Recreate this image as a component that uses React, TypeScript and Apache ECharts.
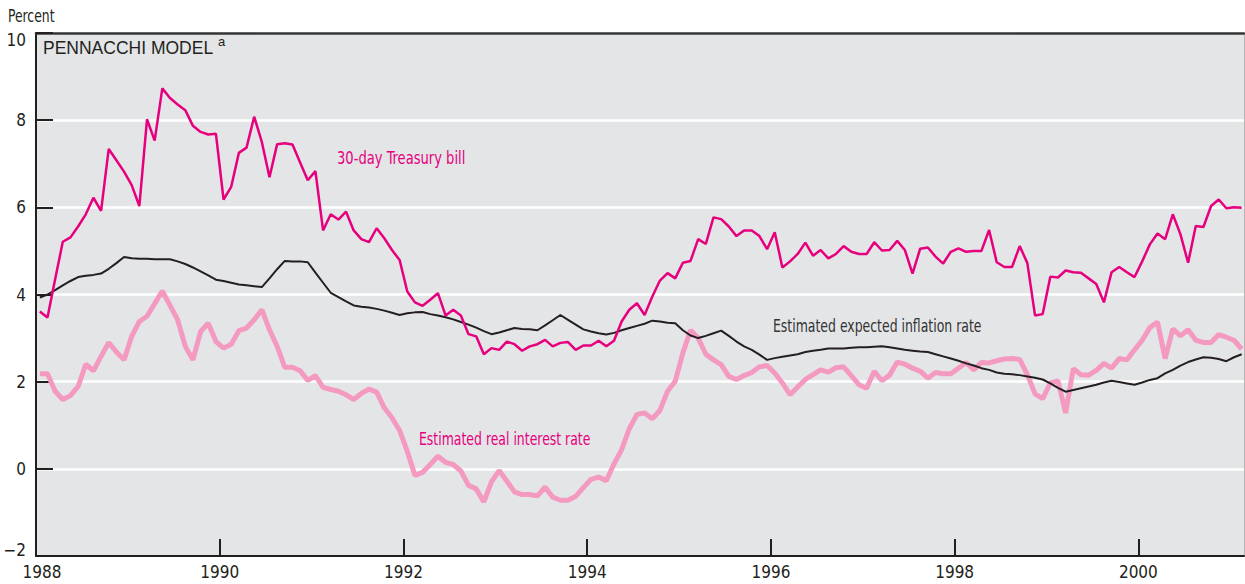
import React, { useEffect, useRef } from "react";
import * as echarts from "echarts";

// Monthly observations, Jan 1988 .. Feb 2001
const startYear = 1988;

const tbill = [
  3.61, 3.47, 4.35, 5.21, 5.31, 5.56, 5.84, 6.22, 5.92, 7.34,
  7.08, 6.82, 6.51, 6.03, 8.02, 7.53, 8.73, 8.51, 8.36, 8.23,
  7.87, 7.73, 7.67, 7.69, 6.18, 6.47, 7.25, 7.37, 8.08, 7.5,
  6.69, 7.45, 7.47, 7.44, 7.03, 6.62, 6.83, 5.47, 5.84, 5.72,
  5.9, 5.47, 5.27, 5.2, 5.52, 5.29, 5.02, 4.79, 4.07, 3.82,
  3.74, 3.88, 4.03, 3.52, 3.65, 3.52, 3.09, 3.04, 2.63, 2.77,
  2.73, 2.92, 2.86, 2.71, 2.81, 2.86, 2.96, 2.81, 2.89, 2.91,
  2.73, 2.83, 2.83, 2.94, 2.81, 2.94, 3.38, 3.65, 3.8, 3.53,
  3.95, 4.32, 4.49, 4.37, 4.73, 4.77, 5.27, 5.16, 5.77, 5.73,
  5.56, 5.34, 5.47, 5.47, 5.34, 5.04, 5.43, 4.62, 4.76, 4.93,
  5.19, 4.89, 5.02, 4.83, 4.93, 5.11, 4.98, 4.93, 4.93, 5.2,
  5.01, 5.02, 5.23, 5.02, 4.48, 5.05, 5.08, 4.87, 4.71, 4.98,
  5.06, 4.98, 5.0, 5.0, 5.48, 4.74, 4.63, 4.63, 5.11, 4.72,
  3.52, 3.55, 4.41, 4.39, 4.55, 4.51, 4.5, 4.37, 4.24, 3.82,
  4.51, 4.63, 4.51, 4.4, 4.76, 5.15, 5.4, 5.27, 5.84, 5.38,
  4.73, 5.57, 5.55, 6.03, 6.18, 5.98, 6.0, 5.99,
];

const inflation = [
  3.93, 4.0, 4.1, 4.21, 4.31, 4.4, 4.43, 4.45, 4.48, 4.59,
  4.72, 4.86, 4.83, 4.82, 4.82, 4.81, 4.81, 4.81, 4.76, 4.7,
  4.62, 4.53, 4.44, 4.34, 4.31, 4.27, 4.23, 4.21, 4.19, 4.17,
  4.37, 4.58, 4.77, 4.76, 4.76, 4.74, 4.5, 4.27, 4.04, 3.94,
  3.84, 3.75, 3.72, 3.7, 3.67, 3.63, 3.58, 3.53, 3.57, 3.59,
  3.6, 3.55, 3.52, 3.48, 3.43, 3.37, 3.31, 3.24, 3.16, 3.09,
  3.13, 3.18, 3.23, 3.21, 3.2, 3.18, 3.29, 3.41, 3.53, 3.42,
  3.31, 3.2, 3.15, 3.11, 3.08, 3.12, 3.18, 3.23, 3.28, 3.33,
  3.4, 3.38, 3.35, 3.34, 3.18, 3.06, 3.0, 3.05, 3.11, 3.17,
  3.05, 2.92, 2.81, 2.73, 2.62, 2.5, 2.54, 2.57, 2.6, 2.63,
  2.68, 2.71, 2.73, 2.76, 2.76, 2.76, 2.78, 2.79, 2.79, 2.8,
  2.81, 2.79, 2.76, 2.73, 2.71, 2.69, 2.68, 2.63, 2.58, 2.53,
  2.48, 2.42, 2.37, 2.31, 2.27, 2.21, 2.18, 2.17, 2.15, 2.12,
  2.09, 2.05, 1.96, 1.86, 1.77, 1.81, 1.85, 1.89, 1.93, 1.98,
  2.02, 1.99, 1.96, 1.93, 1.98, 2.04, 2.08, 2.19, 2.27, 2.37,
  2.45, 2.51, 2.56, 2.55, 2.52, 2.47, 2.56, 2.63,
];

const realRate = [
  2.18, 2.18, 1.78, 1.59, 1.68, 1.89, 2.4, 2.25, 2.58, 2.9,
  2.68, 2.5, 3.04, 3.38, 3.5, 3.79, 4.08, 3.75, 3.42, 2.81,
  2.5, 3.15, 3.34, 2.92, 2.77, 2.86, 3.17, 3.23, 3.42, 3.65,
  3.19, 2.81, 2.33, 2.33, 2.25, 2.03, 2.14, 1.87, 1.82, 1.78,
  1.7, 1.59, 1.73, 1.83, 1.76, 1.4, 1.17, 0.88, 0.4, -0.15,
  -0.08, 0.1, 0.29, 0.15, 0.1, -0.05, -0.38, -0.46, -0.76, -0.3,
  -0.04, -0.28, -0.53, -0.59, -0.59, -0.62, -0.42, -0.65, -0.72, -0.72,
  -0.63, -0.43, -0.24, -0.19, -0.27, 0.11, 0.44, 0.92, 1.25, 1.28,
  1.15, 1.34, 1.78, 2.01, 2.66, 3.18, 3.0, 2.63, 2.5, 2.39,
  2.12, 2.05, 2.14, 2.21, 2.34, 2.37, 2.2, 1.97, 1.7, 1.88,
  2.05, 2.16, 2.27, 2.22, 2.32, 2.34, 2.14, 1.93, 1.85, 2.24,
  2.02, 2.15, 2.45, 2.4, 2.31, 2.24, 2.08, 2.21, 2.18, 2.18,
  2.31, 2.44, 2.27, 2.44, 2.43, 2.48, 2.52, 2.53, 2.51, 2.16,
  1.72, 1.61, 1.97, 2.02, 1.28, 2.3, 2.16, 2.15, 2.26, 2.42,
  2.31, 2.53, 2.5, 2.73, 2.95, 3.24, 3.37, 2.53, 3.21, 3.05,
  3.19, 2.95, 2.9, 2.9, 3.08, 3.02, 2.95, 2.75,
];

const yearTicks = [1988, 1990, 1992, 1994, 1996, 1998, 2000];
const xMin = 1988;
const xMax = 2001.15;
const yMin = -2;
const yMax = 10;
const yStep = 2;

const NARROW = "'Liberation Sans Narrow', 'Arial Narrow', 'DejaVu Sans Condensed', 'Roboto Condensed', sans-serif";
const REGULAR = "'Liberation Sans', Arial, Helvetica, sans-serif";
const DARK = "#231f20";
const MAGENTA = "#e6007e";
const PINK = "#f49ac1";

const toPoints = (arr: number[]) =>
  arr.map((v, i) => [startYear + (i + 0.5) / 12, v]);

export default function App() {
  const ref = useRef<HTMLDivElement>(null);

  useEffect(() => {
    if (!ref.current) return;
    const chart = echarts.init(ref.current, null, { renderer: "svg" });
    const labelText = (
      text: string,
      x: number,
      y: number,
      fill: string,
      size: number,
      squeeze: number
    ) => ({
      type: "text",
      x,
      y,
      scaleX: squeeze,
      style: { text, fontSize: size, fontFamily: NARROW, fill, verticalAlign: "middle" },
    });
    chart.setOption({
      animation: false,
      backgroundColor: "#ffffff",
      grid: {
        left: 36,
        right: 1,
        top: 33,
        bottom: 28,
        show: true,
        backgroundColor: "#e4e5e7",
        borderWidth: 0,
      },
      xAxis: [
        {
          type: "value",
          min: xMin,
          max: xMax,
          position: "bottom",
          axisLine: { show: true, onZero: false, lineStyle: { color: DARK, width: 2 } },
          axisTick: {
            show: true,
            inside: true,
            length: 17,
            customValues: yearTicks,
            lineStyle: { color: DARK, width: 2 },
          },
          axisLabel: {
            customValues: yearTicks,
            formatter: (v: number) =>
              Math.round(v) === xMin ? "{first|" + Math.round(v) + "}" : String(Math.round(v)),
            rich: { first: { padding: [0, 0, 0, 12], fontSize: 17, fontFamily: NARROW, color: DARK } },
            fontSize: 17,
            color: DARK,
            fontFamily: NARROW,
            margin: 7,
          },
          splitLine: { show: false },
        },
        {
          type: "value",
          min: xMin,
          max: xMax,
          position: "top",
          axisLine: { show: true, onZero: false, lineStyle: { color: "#333333", width: 2.5 } },
          axisTick: { show: false },
          axisLabel: { show: false },
          splitLine: { show: false },
        },
      ],
      yAxis: [
        {
          type: "value",
          min: yMin,
          max: yMax,
          interval: yStep,
          axisLine: { show: true, onZero: false, lineStyle: { color: DARK, width: 2 } },
          axisTick: { show: true, inside: true, length: 17, lineStyle: { color: DARK, width: 2 } },
          axisLabel: {
            formatter: (v: number) => {
              if (v === yMax) return "{top|" + v + "}";
              if (v === yMin) return "{bot|\u2212" + Math.abs(v) + "}";
              return String(v);
            },
            rich: {
              top: { padding: [13, 0, 0, 0], fontSize: 17, fontFamily: NARROW, color: DARK },
              bot: { padding: [0, 0, 12, 0], fontSize: 17, fontFamily: NARROW, color: DARK },
            },
            fontSize: 17,
            color: DARK,
            fontFamily: NARROW,
            margin: 10,
          },
          splitLine: { show: true, lineStyle: { color: "#ffffff", width: 2.5 } },
        },
        {
          type: "value",
          min: yMin,
          max: yMax,
          interval: yStep,
          position: "right",
          axisLine: { show: true, onZero: false, lineStyle: { color: "#b5b5b5", width: 1 } },
          axisTick: { show: false },
          axisLabel: { show: false },
          splitLine: { show: false },
        },
      ],
      series: [
        {
          name: "Estimated real interest rate",
          type: "line",
          data: toPoints(realRate),
          showSymbol: false,
          lineStyle: { color: PINK, width: 5 },
          z: 2,
        },
        {
          name: "Estimated expected inflation rate",
          type: "line",
          data: toPoints(inflation),
          showSymbol: false,
          lineStyle: { color: DARK, width: 2 },
          z: 3,
        },
        {
          name: "30-day Treasury bill",
          type: "line",
          data: toPoints(tbill),
          showSymbol: false,
          lineStyle: { color: MAGENTA, width: 2.5 },
          z: 4,
        },
      ],
      graphic: [
        labelText("Percent", 8, 17, DARK, 17, 0.81),
        {
          type: "text",
          x: 43,
          y: 48,
          style: {
            text: "PENNACCHI MODEL",
            fontSize: 17.5,
            fontFamily: REGULAR,
            fill: DARK,
            verticalAlign: "middle",
          },
        },
        {
          type: "text",
          x: 218,
          y: 41,
          style: { text: "a", fontSize: 13, fontFamily: REGULAR, fill: DARK, verticalAlign: "middle" },
        },
        labelText("30-day Treasury bill", 337, 158, MAGENTA, 18, 0.81),
        labelText("Estimated expected inflation rate", 773, 326, "#333333", 18, 0.77),
        labelText("Estimated real interest rate", 419, 439, MAGENTA, 18, 0.77),
      ],
    });
    return () => chart.dispose();
  }, []);

  return (
    <div
      ref={ref}
      style={{ position: "absolute", left: 0, top: 0, width: 1245, height: 584 }}
    />
  );
}
